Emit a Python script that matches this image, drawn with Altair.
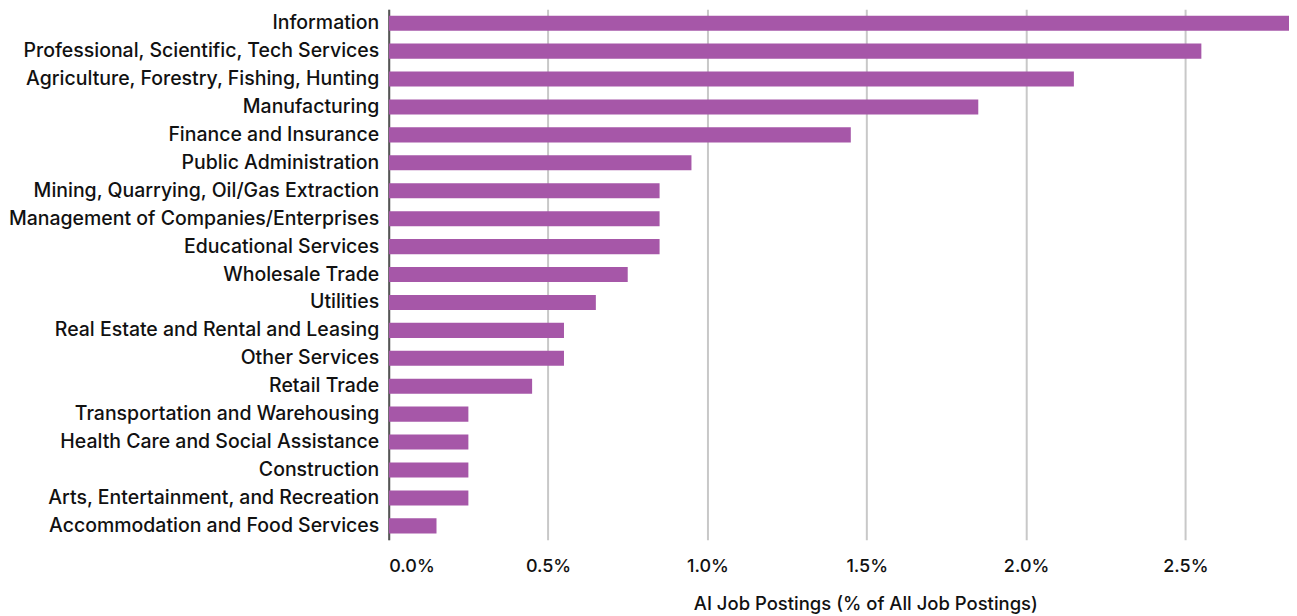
import altair as alt
import pandas as pd

industries = [
    "Information",
    "Professional, Scientific, Tech Services",
    "Agriculture, Forestry, Fishing, Hunting",
    "Manufacturing",
    "Finance and Insurance",
    "Public Administration",
    "Mining, Quarrying, Oil/Gas Extraction",
    "Management of Companies/Enterprises",
    "Educational Services",
    "Wholesale Trade",
    "Utilities",
    "Real Estate and Rental and Leasing",
    "Other Services",
    "Retail Trade",
    "Transportation and Warehousing",
    "Health Care and Social Assistance",
    "Construction",
    "Arts, Entertainment, and Recreation",
    "Accommodation and Food Services",
]
shares = [2.85, 2.55, 2.15, 1.85, 1.45, 0.95, 0.85, 0.85, 0.85, 0.75,
          0.65, 0.55, 0.55, 0.45, 0.25, 0.25, 0.25, 0.25, 0.15]

df = pd.DataFrame({"industry": industries, "share": [s / 100 for s in shares]})

FONT = "Inter"
FS = 19.5
FW = 500

chart = (
    alt.Chart(df)
    .mark_bar(color="#A657A8", clip=True)
    .encode(
        x=alt.X(
            "share:Q",
            scale=alt.Scale(domain=[0, 0.02825], nice=False),
            axis=alt.Axis(
                title="AI Job Postings (% of  All Job Postings)",
                format=".1%",
                values=[0, 0.005, 0.01, 0.015, 0.02, 0.025],
                grid=True,
                gridColor="#C8C8C8",
                gridWidth=2,
                domain=False,
                ticks=False,
                labelFlush=True,
                labelPadding=18,
                labelFont=FONT,
                labelFontSize=FS - 1.5,
                labelFontWeight=FW,
                labelColor="#111111",
                titleFont=FONT,
                titleFontSize=FS - 1,
                titleFontWeight=FW,
                titleColor="#111111",
                titlePadding=19,
                titleX=477,
            ),
        ),
        y=alt.Y(
            "industry:N",
            sort=industries,
            scale=alt.Scale(paddingInner=0.46, paddingOuter=0.23),
            axis=alt.Axis(
                title=None,
                ticks=False,
                domainColor="#555555",
                domainWidth=2,
                labelPadding=10,
                labelFont=FONT,
                labelFontSize=FS,
                labelFontWeight=FW,
                labelColor="#111111",
                labelLimit=500,
                minExtent=380,
                maxExtent=380,
            ),
        ),
    )
    .properties(width=901, height=531, padding={"left": 0, "top": 1, "right": 0, "bottom": 0})
    .configure_view(stroke=None)
)

chart.save("out.html", embed_options={"renderer": "svg", "actions": False})
